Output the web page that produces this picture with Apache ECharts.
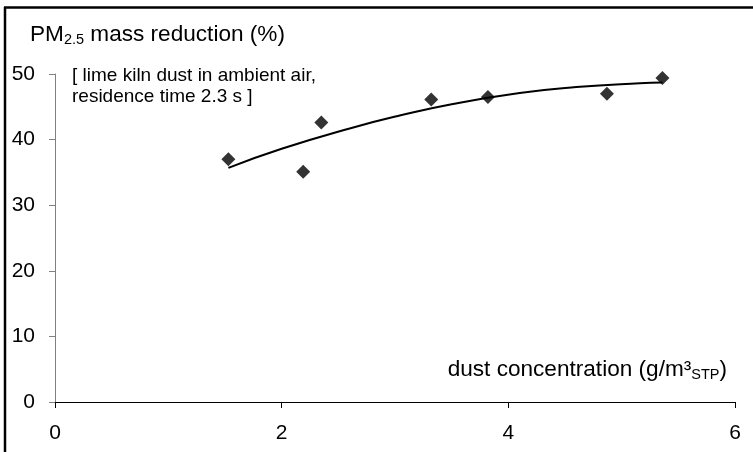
<!DOCTYPE html>
<html>
<head>
<meta charset="utf-8">
<script src="https://cdn.jsdelivr.net/npm/echarts@6/dist/echarts.min.js"></script>
<style>
  html, body { margin: 0; padding: 0; background: #fff; }
  #chart { width: 753px; height: 452px; }
</style>
</head>
<body>
<div id="chart"></div>
<script>
// measured points
const dustConc = [1.53, 2.19, 2.35, 3.32, 3.82, 4.87, 5.36];
const massReduction = [37.0, 35.1, 42.6, 46.1, 46.5, 47.0, 49.4];

// trend curve
const curveX = [1.53, 2.0, 2.6, 3.05, 3.5, 4.1, 4.6, 5.16, 5.36];
const curveY = [35.7, 38.6, 41.7, 43.7, 45.4, 47.1, 48.0, 48.6, 48.7];

const xTicks = [0, 2, 4, 6];
const yTicks = [0, 10, 20, 30, 40, 50];

const font = 'Liberation Sans';

const myChart = echarts.init(document.getElementById('chart'));

const option = {
  animation: false,
  grid: { left: 55, right: 18, top: 74, bottom: 50 },
  xAxis: {
    type: 'value',
    min: xTicks[0],
    max: xTicks[xTicks.length - 1],
    interval: 2,
    splitLine: { show: false },
    axisLine: { onZero: false, lineStyle: { color: '#000', width: 1 } },
    axisTick: { show: true, length: 6, lineStyle: { color: '#000' } },
    axisLabel: { color: '#000', fontSize: 21, fontFamily: font, margin: 21 }
  },
  yAxis: {
    type: 'value',
    min: yTicks[0],
    max: yTicks[yTicks.length - 1],
    interval: 10,
    splitLine: { show: false },
    axisLine: { show: true, lineStyle: { color: '#808080', width: 1 } },
    axisTick: { show: true, length: 6, lineStyle: { color: '#808080' } },
    axisLabel: { color: '#000', fontSize: 21, fontFamily: font, margin: 20 }
  },
  graphic: [
    // frame
    { type: 'line', shape: { x1: 5, y1: 7, x2: 5, y2: 452 }, style: { stroke: '#000', lineWidth: 2.5 } },
    { type: 'line', shape: { x1: 4, y1: 7.5, x2: 753, y2: 7.5 }, style: { stroke: '#000', lineWidth: 2.5 } },
    // y title
    {
      type: 'text', left: 30, top: 23,
      style: {
        text: '{m|PM}{s|2.5}{m| mass reduction (%)}',
        rich: {
          m: { fontSize: 22.6, fontFamily: font, fill: '#000', lineHeight: 26 },
          s: { fontSize: 14.5, fontFamily: font, fill: '#000', lineHeight: 15, verticalAlign: 'bottom' }
        }
      }
    },
    // note
    {
      type: 'text', left: 72, top: 65,
      style: {
        text: '[ lime kiln dust in ambient air,\nresidence time 2.3 s ]',
        fontSize: 19, fontFamily: font, fill: '#000', lineHeight: 21
      }
    },
    // x title
    {
      type: 'text', right: 26, top: 358,
      style: {
        text: '{m|dust concentration (g/m³}{s|STP}{m|)}',
        rich: {
          m: { fontSize: 22.6, fontFamily: font, fill: '#000', lineHeight: 26 },
          s: { fontSize: 14.5, fontFamily: font, fill: '#000', lineHeight: 15, verticalAlign: 'bottom' }
        }
      }
    }
  ],
  series: [
    {
      name: 'trend',
      type: 'line',
      smooth: true,
      symbol: 'none',
      lineStyle: { color: '#000', width: 2 },
      data: curveX.map((x, i) => [x, curveY[i]])
    },
    {
      name: 'measured',
      type: 'scatter',
      symbol: 'diamond',
      symbolSize: 14,
      itemStyle: { color: '#000' },
      data: dustConc.map((x, i) => [x, massReduction[i]])
    }
  ]
};

myChart.setOption(option);
</script>
</body>
</html>
